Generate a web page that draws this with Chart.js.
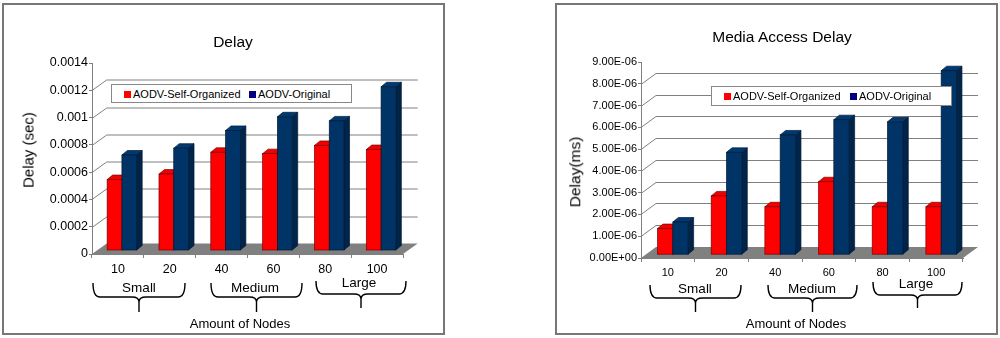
<!DOCTYPE html>
<html>
<head>
<meta charset="utf-8">
<script src="https://cdn.jsdelivr.net/npm/chart.js@4.4.0/dist/chart.umd.min.js"></script>
<style>
  body { margin: 0; width: 1000px; height: 338px; background: #fff; position: relative; overflow: hidden;
         font-family: 'Liberation Sans', Arial, sans-serif; color: #000; }
  .frame { position: absolute; top: 3px; width: 443px; height: 332px; box-sizing: border-box; border: 2px solid #777; }
  canvas { position: absolute; top: 0; }
  .t { position: absolute; transform: translate(-50%, -50%); white-space: nowrap; line-height: 1; }
  .rot { transform: translate(-50%, -50%) rotate(-90deg); }
  .legend { position: absolute; background: #fff; border: 1px solid #888; box-sizing: border-box; }
  .legend span { position: absolute; top: 50%; transform: translateY(-50%); white-space: nowrap; font-size: 11px; line-height: 1; }
  .legend i { position: absolute; top: 50%; width: 7px; height: 7px; margin-top: -3px; }
</style>
</head>
<body>
<div class="frame" style="left:2px"></div>
<div class="frame" style="left:555px"></div>
<canvas id="delay-chart" width="450" height="338" style="left:0"></canvas>
<canvas id="mac-chart" width="450" height="338" style="left:550px"></canvas>

<!-- left panel text -->
<div class="t" style="left:233px;top:42px;font-size:15.5px">Delay</div>
<div class="t rot" style="left:28px;top:150px;font-size:15px">Delay (sec)</div>
<div class="t" style="left:139px;top:288px;font-size:13.5px">Small</div>
<div class="t" style="left:255px;top:288px;font-size:13.5px">Medium</div>
<div class="t" style="left:359px;top:283px;font-size:13.5px">Large</div>
<div class="t" style="left:240px;top:323px;font-size:13px">Amount of Nodes</div>
<div class="legend" style="left:111px;top:84px;width:241px;height:19px">
  <i style="left:12px;background:#ff0000"></i><span style="left:21px">AODV-Self-Organized</span>
  <i style="left:137px;background:#000080"></i><span style="left:146px">AODV-Original</span>
</div>

<!-- right panel text -->
<div class="t" style="left:782px;top:37px;font-size:15.5px">Media Access Delay</div>
<div class="t rot" style="left:575px;top:172px;font-size:15.5px">Delay(ms)</div>
<div class="t" style="left:695px;top:289px;font-size:13.5px">Small</div>
<div class="t" style="left:812px;top:289px;font-size:13.5px">Medium</div>
<div class="t" style="left:916px;top:284px;font-size:13.5px">Large</div>
<div class="t" style="left:796px;top:323px;font-size:13px">Amount of Nodes</div>
<div class="legend" style="left:711px;top:86px;width:241px;height:20px">
  <i style="left:12px;background:#ff0000"></i><span style="left:21px">AODV-Self-Organized</span>
  <i style="left:138px;background:#000080"></i><span style="left:147px">AODV-Original</span>
</div>

<script>
/* ---- data ---- */
const NODE_COUNTS  = ['10', '20', '40', '60', '80', '100'];
const SERIES_NAMES = ['AODV-Self-Organized', 'AODV-Original'];

const DELAY_SELF = [0.00052, 0.00056, 0.00072, 0.00071, 0.00077, 0.00074];
const DELAY_ORIG = [0.00070, 0.00075, 0.00088, 0.00098, 0.00095, 0.00120];
const DELAY_TICKS       = [0, 0.0002, 0.0004, 0.0006, 0.0008, 0.001, 0.0012, 0.0014];
const DELAY_TICK_LABELS = ['0', '0.0002', '0.0004', '0.0006', '0.0008', '0.001', '0.0012', '0.0014'];

const MAC_SELF = [1.2e-6, 2.7e-6, 2.2e-6, 3.35e-6, 2.2e-6, 2.2e-6];
const MAC_ORIG = [1.5e-6, 4.7e-6, 5.5e-6, 6.2e-6, 6.1e-6, 8.45e-6];
const MAC_TICKS       = [0, 1e-6, 2e-6, 3e-6, 4e-6, 5e-6, 6e-6, 7e-6, 8e-6, 9e-6];
const MAC_TICK_LABELS = ['0.00E+00', '1.00E-06', '2.00E-06', '3.00E-06', '4.00E-06',
                         '5.00E-06', '6.00E-06', '7.00E-06', '8.00E-06', '9.00E-06'];

const FONT = "'Liberation Sans', Arial, sans-serif";
const GRAY = '#808080';

/* colours for each series: front, top, side, edge */
const BAR_STYLES = [
  { front: '#ff0000', top: '#f20000', side: '#b00000', edge: '#7a0000' },
  { front: '#003366', top: '#003a73', side: '#00244a', edge: '#001a33' },
];

/* ---- 3D look: floor, back wall lines, extruded bars, braces ---- */
const threeD = {
  id: 'threeD',
  beforeDraw(chart, args, o) {
    const { ctx, chartArea: { left, right, bottom } } = chart;
    const y = chart.scales.y;
    ctx.save();
    // floor
    ctx.fillStyle = GRAY;
    ctx.beginPath();
    ctx.moveTo(left, bottom);
    ctx.lineTo(right, bottom);
    ctx.lineTo(right + o.wall.dx, bottom + o.wall.dy);
    ctx.lineTo(left + o.wall.dx, bottom + o.wall.dy);
    ctx.closePath();
    ctx.fill();
    // back wall grid lines
    ctx.strokeStyle = GRAY;
    ctx.lineWidth = 1;
    y.ticks.slice(1, -1).forEach(t => {
      const py = Math.round(y.getPixelForValue(t.value)) + 0.5;
      ctx.beginPath();
      ctx.moveTo(left, py);
      ctx.lineTo(left + o.wall.dx, py + o.wall.dy);
      ctx.lineTo(right + o.wall.dx, py + o.wall.dy);
      ctx.stroke();
    });
    ctx.restore();
  },
  afterDatasetsDraw(chart, args, o) {
    const { ctx } = chart;
    const n = chart.data.labels.length;
    const { dx, dy } = o.depth;
    ctx.save();
    ctx.lineWidth = 0.7;
    for (let i = 0; i < n; i++) {
      chart.data.datasets.forEach((ds, d) => {
        const el = chart.getDatasetMeta(d).data[i];
        const p = el.getProps(['x', 'y', 'base', 'width'], true);
        const s = BAR_STYLES[d];
        const x0 = p.x - p.width / 2 + o.shift.dx, x1 = p.x + p.width / 2 + o.shift.dx;
        const yt = p.y + o.shift.dy, yb = p.base + o.shift.dy;
        ctx.strokeStyle = s.edge;
        // side
        ctx.fillStyle = s.side;
        ctx.beginPath();
        ctx.moveTo(x1, yt); ctx.lineTo(x1 + dx, yt + dy);
        ctx.lineTo(x1 + dx, yb + dy); ctx.lineTo(x1, yb);
        ctx.closePath(); ctx.fill(); ctx.stroke();
        // top
        ctx.fillStyle = s.top;
        ctx.beginPath();
        ctx.moveTo(x0, yt); ctx.lineTo(x1, yt);
        ctx.lineTo(x1 + dx, yt + dy); ctx.lineTo(x0 + dx, yt + dy);
        ctx.closePath(); ctx.fill(); ctx.stroke();
        // front
        ctx.fillStyle = s.front;
        ctx.fillRect(x0, yt, x1 - x0, yb - yt);
        ctx.strokeRect(x0, yt, x1 - x0, yb - yt);
      });
    }
    ctx.restore();
  },
  afterDraw(chart, args, o) {
    const { ctx } = chart;
    ctx.save();
    ctx.strokeStyle = '#000';
    ctx.lineWidth = 1.4;
    o.braces.forEach(([x0, x1, yTop, yMid, yTip]) => {
      const cx = (x0 + x1) / 2;
      ctx.beginPath();
      ctx.moveTo(x0, yTop);
      ctx.quadraticCurveTo(x0, yMid, x0 + 7, yMid);
      ctx.lineTo(cx - 7, yMid);
      ctx.quadraticCurveTo(cx, yMid, cx, yMid + 5);
      ctx.lineTo(cx, yTip);
      ctx.moveTo(cx, yMid + 5);
      ctx.quadraticCurveTo(cx, yMid, cx + 7, yMid);
      ctx.lineTo(x1 - 7, yMid);
      ctx.quadraticCurveTo(x1, yMid, x1, yTop);
      ctx.stroke();
    });
    ctx.restore();
  },
};

function buildChart(id, cfg) {
  const dataset = (i, values) => ({
    label: SERIES_NAMES[i],
    data: values,
    backgroundColor: 'rgba(0,0,0,0)',
    borderWidth: 0,
    categoryPercentage: 0.57,
    barPercentage: 1,
  });
  return new Chart(document.getElementById(id), {
    type: 'bar',
    data: { labels: NODE_COUNTS, datasets: [dataset(0, cfg.self), dataset(1, cfg.orig)] },
    options: {
      responsive: false,
      animation: false,
      events: [],
      layout: { padding: { left: 0, top: cfg.top, right: cfg.right, bottom: 0 } },
      plugins: {
        legend: { display: false },
        tooltip: { enabled: false },
        threeD: { wall: cfg.wall, shift: cfg.shift, depth: { dx: 5.5, dy: -4.5 }, braces: cfg.braces },
      },
      scales: {
        x: {
          grid: { offset: true, drawOnChartArea: false, tickLength: 4, color: GRAY },
          border: { color: GRAY },
          ticks: { color: '#000', font: { family: FONT, size: cfg.xFont }, padding: cfg.xPad, maxRotation: 0 },
          afterFit: s => { s.height = cfg.xh; },
        },
        y: {
          min: 0,
          max: cfg.ticks[cfg.ticks.length - 1],
          afterBuildTicks: s => { s.ticks = cfg.ticks.map(v => ({ value: v })); },
          grid: { drawOnChartArea: false, tickLength: 3, color: GRAY },
          border: { color: GRAY },
          ticks: { color: '#000', font: { family: FONT, size: cfg.yFont }, padding: 1,
                   callback: (v, i) => cfg.tickLabels[i] },
          afterFit: s => { s.width = cfg.yw; },
        },
      },
    },
    plugins: [threeD],
  });
}

buildChart('delay-chart', {
  self: DELAY_SELF, orig: DELAY_ORIG,
  ticks: DELAY_TICKS, tickLabels: DELAY_TICK_LABELS,
  top: 63, right: 47, yw: 92, xh: 84,
  xFont: 12.5, xPad: 4, yFont: 12.5,
  wall: { dx: 14.7, dy: -10.5 }, shift: { dx: 4, dy: -3.5 },
  braces: [[93, 185, 283, 297, 312], [211, 302, 283, 297, 312], [316, 406, 281, 294, 308]],
});

buildChart('mac-chart', {
  self: MAC_SELF, orig: MAC_ORIG,
  ticks: MAC_TICKS, tickLabels: MAC_TICK_LABELS,
  top: 62, right: 37, yw: 91, xh: 80,
  xFont: 11, xPad: 4, yFont: 11,
  wall: { dx: 15, dy: -11 }, shift: { dx: 5, dy: -3.3 },
  braces: [[100, 191, 285, 298, 312], [218, 307, 285, 298, 312], [323, 412, 282, 295, 308]],
});
</script>
</body>
</html>
